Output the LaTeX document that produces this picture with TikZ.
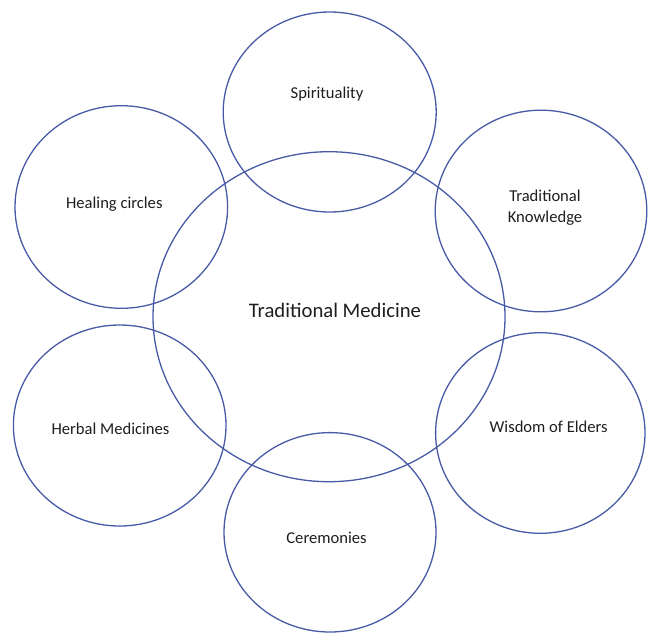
\documentclass[tikz,border=0pt]{standalone}
\usepackage{fontspec}
\setmainfont{Carlito}
\usetikzlibrary{shapes.geometric}
\definecolor{ringblue}{RGB}{72,90,166}
\definecolor{inktext}{RGB}{30,30,30}
\tikzset{
  ring/.style={ellipse, draw=ringblue, line width=1.3pt, inner sep=0pt, outer sep=0pt},
  lbl/.style={anchor=base, text=inktext, inner sep=0pt, align=center,
              font=\fontsize{16.6}{21}\selectfont},
  hub/.style={anchor=base, text=inktext, inner sep=0pt,
              font=\fontsize{20.7}{25}\selectfont}
}
\begin{document}
\begin{tikzpicture}[x=1pt, y=-1pt]
  \useasboundingbox (0,0) rectangle (650,633);
  % central ellipse
  \node[ring, minimum width=352pt, minimum height=330pt] (core) at (329,316.7) {};
  % surrounding ellipses
  \node[ring, minimum width=213pt, minimum height=200pt] (spi) at (329.7,112) {};
  \node[ring, minimum width=212.6pt, minimum height=202.6pt] (heal) at (121.3,207) {};
  \node[ring, minimum width=211.6pt, minimum height=201.6pt] (know) at (541,211) {};
  \node[ring, minimum width=212.6pt, minimum height=201pt] (herb) at (119.7,425.5) {};
  \node[ring, minimum width=209.4pt, minimum height=200.6pt] (elder) at (540.3,433) {};
  \node[ring, minimum width=212pt, minimum height=199.4pt] (cere) at (330,532.3) {};
  % labels
  \node[hub] (coreL) at (335,317.7) {Traditional Medicine};
  \node[lbl] (spiL) at (327,98.6) {Spirituality};
  \node[lbl] (healL) at (114.3,208.6) {Healing circles};
  \node[lbl, anchor=center] (knowL) at (545,208) {Traditional\\Knowledge};
  \node[lbl] (herbL) at (110.5,434.6) {Herbal Medicines};
  \node[lbl] (elderL) at (548.7,432.6) {Wisdom of Elders};
  \node[lbl] (cereL) at (326.5,543.6) {Ceremonies};
\end{tikzpicture}
\end{document}
